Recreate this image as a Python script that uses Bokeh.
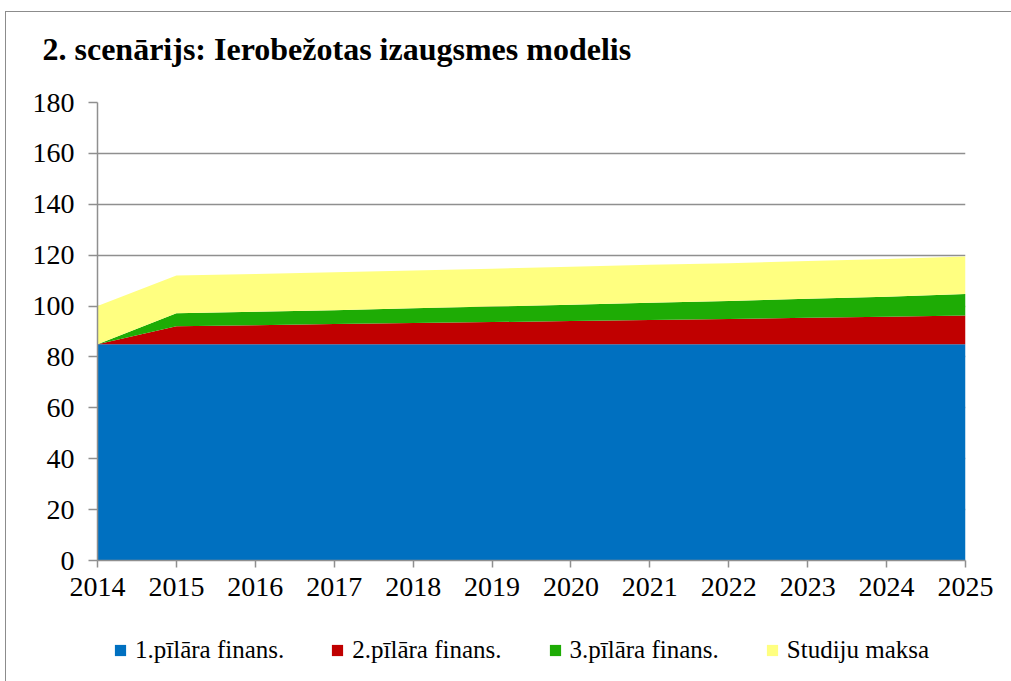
from bokeh.plotting import figure
from bokeh.layouts import column
from bokeh.models import Legend, LegendItem, FixedTicker, Range1d, ColumnDataSource, Title
from bokeh.embed import file_html
from bokeh.resources import INLINE

years = [2014, 2015, 2016, 2017, 2018, 2019, 2020, 2021, 2022, 2023, 2024, 2025]
pillar1 = [85, 85, 85, 85, 85, 85, 85, 85, 85, 85, 85, 85]
pillar2 = [0, 7.1, 7.5, 7.9, 8.3, 8.7, 9.1, 9.5, 9.9, 10.4, 10.8, 11.3]
pillar3 = [0, 5.1, 5.3, 5.5, 5.8, 6.1, 6.4, 6.8, 7.1, 7.5, 7.9, 8.4]
fee = [15, 14.8, 14.8, 14.9, 14.9, 14.9, 14.9, 14.9, 14.8, 14.8, 14.8, 14.8]
series_names = ["1.pīlāra finans.", "2.pīlāra finans.", "3.pīlāra finans.", "Studiju maksa"]
colors = ["#0070C0", "#C00000", "#1EAC05", "#FFFF80"]
y_ticks = [0, 20, 40, 60, 80, 100, 120, 140, 160, 180]
title_text = "2. scenārijs: Ierobežotas izaugsmes modelis"

src = ColumnDataSource(dict(year=years, p1=pillar1, p2=pillar2, p3=pillar3, fee=fee))


def blank_strip(height):
    f = figure(width=1005, height=height, output_backend="svg", toolbar_location=None,
               x_range=Range1d(0, 1), y_range=Range1d(0, 1),
               min_border_left=0, min_border_right=0, min_border_top=0, min_border_bottom=0)
    f.axis.visible = False
    f.grid.grid_line_color = None
    f.outline_line_color = None
    return f


# Title strip
tf = blank_strip(76)
tf.title = Title(text=title_text, text_font="Liberation Serif", text_font_style="bold",
                 text_font_size="32px", text_color="black", align="left", offset=-55, standoff=32)

# Main chart
p = figure(width=1005, height=532, output_backend="svg", toolbar_location=None,
           x_range=Range1d(2014, 2025), y_range=Range1d(0, 180),
           min_border_left=91, min_border_right=46, min_border_top=14, min_border_bottom=60)
p.outline_line_color = None
p.background_fill_color = "white"
p.border_fill_color = "white"

rs = p.varea_stack(stackers=["p1", "p2", "p3", "fee"], x="year", color=colors, source=src)

p.xgrid.grid_line_color = None
p.ygrid.grid_line_color = "#8f8f8f"
p.ygrid.grid_line_width = 1.5
p.ygrid.ticker = FixedTicker(ticks=y_ticks)

p.yaxis.ticker = FixedTicker(ticks=y_ticks)
p.xaxis.ticker = FixedTicker(ticks=years)
for ax in (p.xaxis[0], p.yaxis[0]):
    ax.axis_line_color = "#8f8f8f"
    ax.axis_line_width = 1.5
    ax.major_tick_line_color = "#8f8f8f"
    ax.major_tick_line_width = 1.5
    ax.minor_tick_line_color = None
    ax.major_tick_in = 0
    ax.major_label_text_font = "Liberation Serif"
    ax.major_label_text_font_size = "28px"
    ax.major_label_text_color = "black"
p.yaxis.major_tick_out = 9
p.yaxis.major_label_standoff = 14
p.xaxis.major_tick_out = 7
p.xaxis.major_label_standoff = 10

# Legend strip below the chart (its frame is aligned with the chart frame)
lg = blank_strip(61)
# swatch renderers use the same data; they fall outside this strip's ranges
swatches = [lg.varea(x="year", y1=0, y2=col, color=c, source=src)
            for col, c in zip(["p1", "p2", "p3", "fee"], colors)]

items = [LegendItem(label=n, renderers=[r]) for n, r in zip(series_names, swatches)]
legend = Legend(items=items, orientation="horizontal", location=(16, 17),
                glyph_width=14, glyph_height=14, label_standoff=8, spacing=46,
                label_text_font="Liberation Serif", label_text_font_size="25px",
                label_text_color="black",
                border_line_color=None, background_fill_alpha=0, padding=0, margin=0)
lg.add_layout(legend)

layout = column(tf, p, lg, spacing=0,
                styles={"border-left": "1px solid #8c8c8c", "border-top": "1px solid #8c8c8c",
                        "margin-left": "5px", "margin-top": "11px"})
open("out.html", "w").write(file_html(layout, INLINE))
